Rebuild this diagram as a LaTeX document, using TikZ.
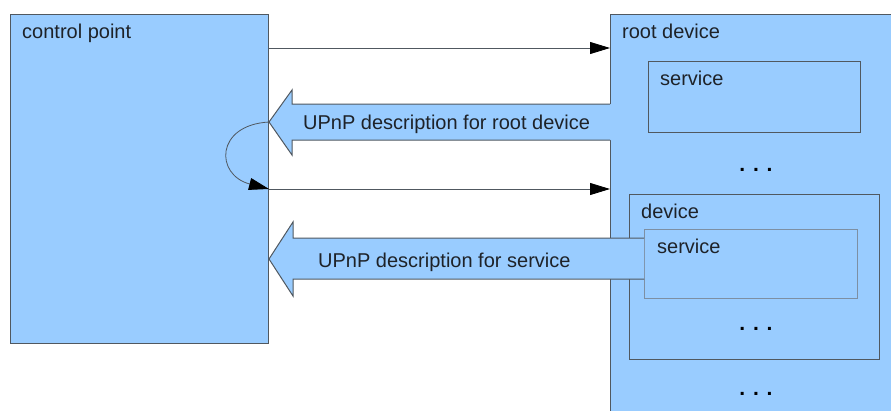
\documentclass[tikz,border=0pt]{standalone}
\usepackage{fontspec}
\setmainfont{Liberation Sans}
\usetikzlibrary{arrows.meta}
\definecolor{boxfill}{HTML}{99CCFF}
\definecolor{edge}{HTML}{505860}
\definecolor{lightedge}{HTML}{7D8FA3}
\definecolor{txt}{HTML}{1E2228}
\begin{document}
\begin{tikzpicture}[x=1pt,y=-1pt,
  box/.style={draw=edge,fill=boxfill,line width=1pt,anchor=north west,inner sep=0pt,outer sep=0pt},
  lbl/.style={anchor=base west,inner sep=0pt,font=\fontsize{20}{24}\selectfont,text=txt},
  dotsl/.style={anchor=base,inner sep=0pt,font=\fontsize{21}{24}\selectfont\bfseries,text=black},
  msg/.style={draw=edge,line width=0.9pt},
  tipend/.style={-{Triangle[length=20pt,width=12pt,color=black]}},
  bigarrow/.style={fill=boxfill,draw=none},
  bigedge/.style={draw=edge,line width=1pt,line join=miter}
]
\useasboundingbox (0,0) rectangle (891,410);
\clip (0,0) rectangle (891,410);

% boxes
\node[box,minimum width=258pt,minimum height=329pt] (cp) at (10,14) {};
\node[box,minimum width=300pt,minimum height=420pt] (root) at (610,14) {};
\node[box,minimum width=212pt,minimum height=71pt] (svc1) at (648,61) {};
\node[box,minimum width=250pt,minimum height=165pt] (dev) at (629,194) {};
\node[box,draw=lightedge,minimum width=213pt,minimum height=69pt] (svc2) at (644,229) {};

% big arrow 1: description for root device
\coordinate (t1) at (269,122);
\fill[bigarrow] (t1) -- (292,90) -- (292,104) -- (611,104) -- (611,140) -- (292,140) -- (292,155) -- cycle;
\draw[bigedge] (610,104) -- (292,104) -- (292,90) -- (t1) -- (292,155) -- (292,140) -- (610,140);

% big arrow 2: description for service
\coordinate (t2) at (269,259);
\fill[bigarrow] (t2) -- (293,222) -- (293,238) -- (644,238) -- (644,279) -- (293,279) -- (293,296) -- cycle;
\draw[bigedge] (644,238) -- (293,238) -- (293,222) -- (t2) -- (293,296) -- (293,279) -- (644,279);

% thin arrows
\coordinate (y1) at (0,48);
\coordinate (y2) at (0,189);
\draw[msg,tipend] (cp.east |- y1) -- (root.west |- y1);
\draw[msg,tipend] (cp.east |- y2) -- (root.west |- y2);
\coordinate (c2) at (269,189);
\draw[msg,line width=0.8pt,tipend] (t1) .. controls (215,125) and (215,175) .. (c2);

% labels
\node[lbl] (lcp) at (22,38) {control point};
\node[lbl] (lroot) at (622,38) {root device};
\node[lbl] (lsvc1) at (660,85) {service};
\node[lbl] (ldev) at (641,218) {device};
\node[lbl] (lsvc2) at (657,253) {service};
\node[lbl] (lm1) at (303,129) {UPnP description for root device};
\node[lbl] (lm2) at (318,267) {UPnP description for service};

% ellipses
\node[dotsl] (d1) at (756,171) {. . .};
\node[dotsl] (d2) at (756,330) {. . .};
\node[dotsl] (d3) at (756,395) {. . .};
\end{tikzpicture}
\end{document}
